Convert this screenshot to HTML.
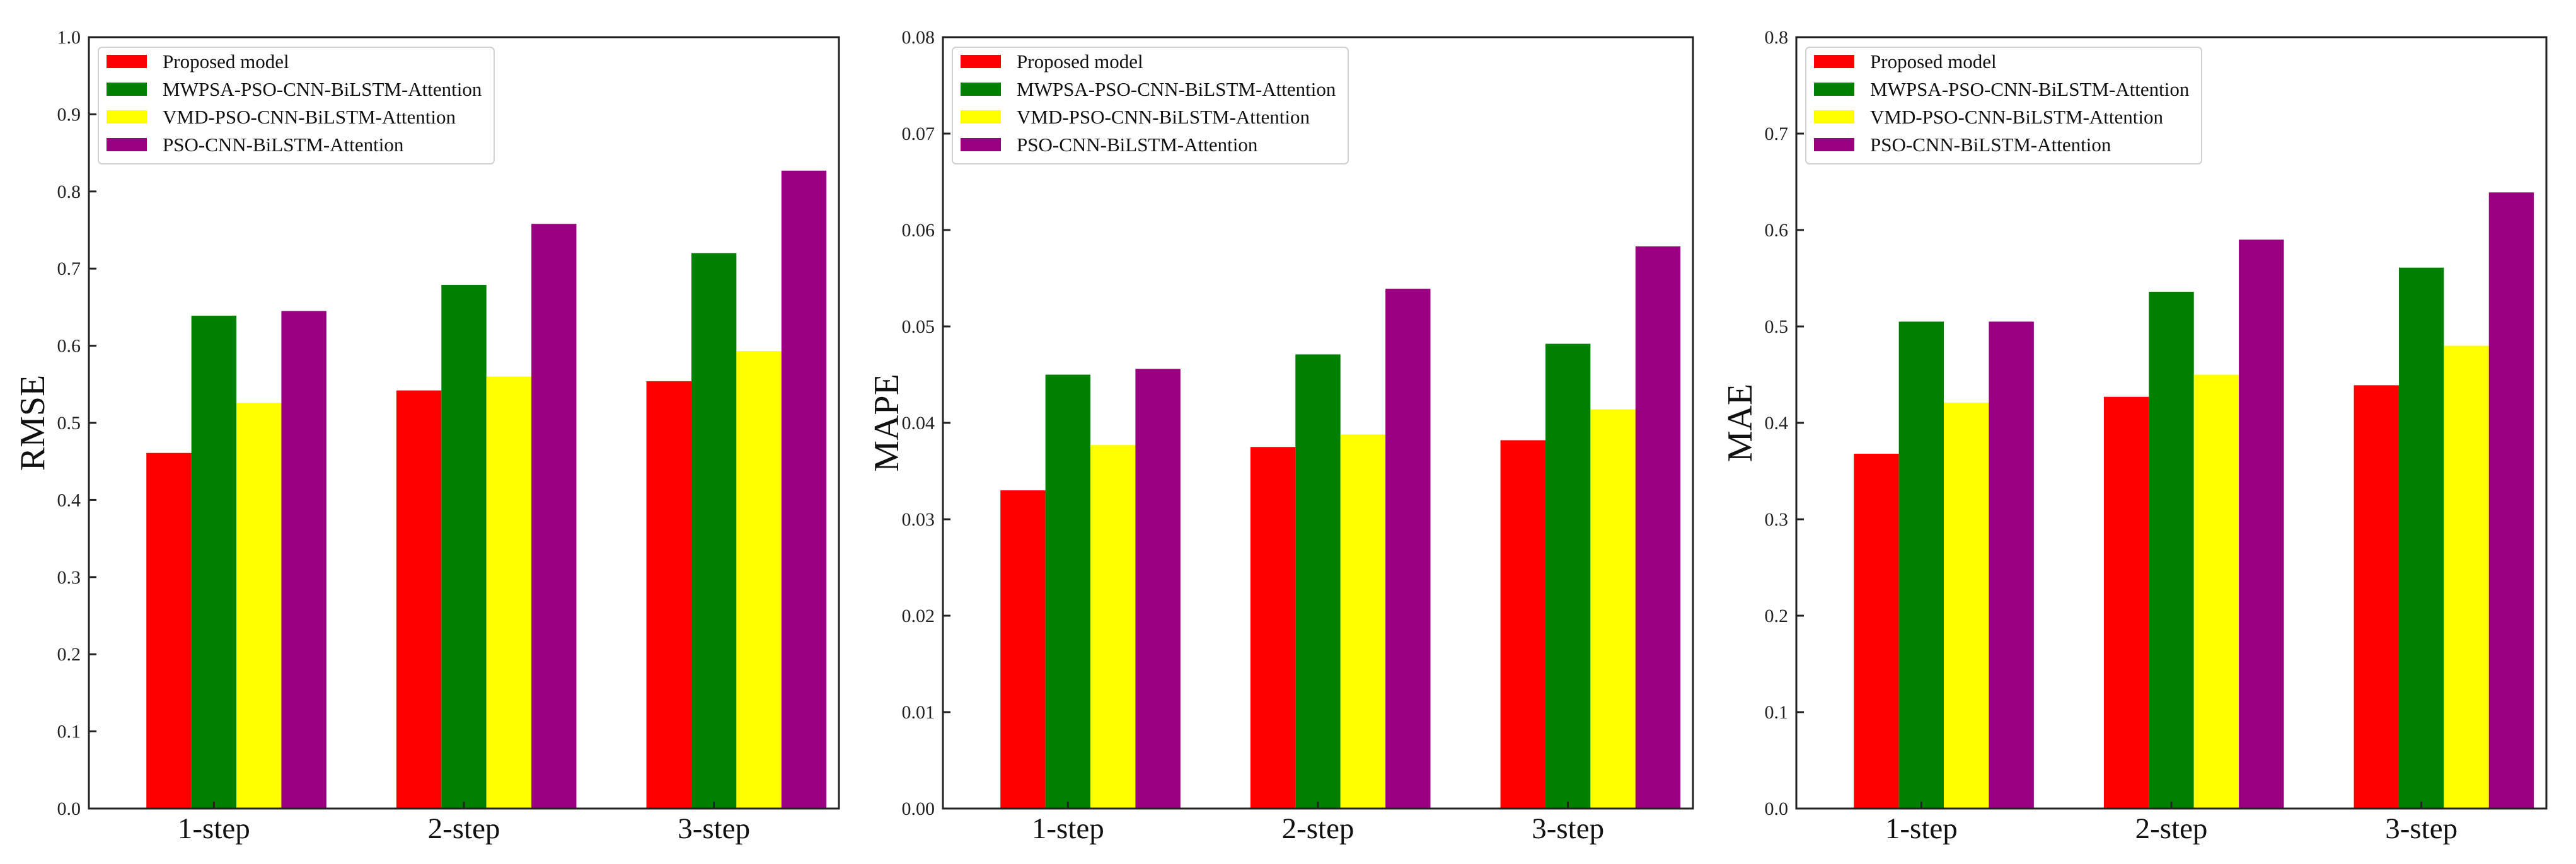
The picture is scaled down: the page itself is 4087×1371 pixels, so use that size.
<!DOCTYPE html>
<html><head><meta charset="utf-8"><style>
html,body{margin:0;padding:0;background:#fff;}
svg{display:block;font-family:"Liberation Serif","DejaVu Serif",serif;}
</style></head><body>
<svg id="fig" width="4087" height="1371" viewBox="0 0 4087 1371" xmlns="http://www.w3.org/2000/svg"></svg>
<script>
const categories = ["1-step","2-step","3-step"];
const seriesNames = ["Proposed model","MWPSA-PSO-CNN-BiLSTM-Attention","VMD-PSO-CNN-BiLSTM-Attention","PSO-CNN-BiLSTM-Attention"];
const seriesColors = ["#ff0000","#008000","#ffff00","#990080"];
const rmseProposed = [0.461,0.542,0.554];
const rmseMWPSA = [0.639,0.679,0.720];
const rmseVMD = [0.526,0.560,0.593];
const rmsePSO = [0.645,0.758,0.827];
const mapeProposed = [0.0330,0.0375,0.0382];
const mapeMWPSA = [0.0450,0.0471,0.0482];
const mapeVMD = [0.0377,0.0388,0.0414];
const mapePSO = [0.0456,0.0539,0.0583];
const maeProposed = [0.368,0.427,0.439];
const maeMWPSA = [0.505,0.536,0.561];
const maeVMD = [0.421,0.450,0.480];
const maePSO = [0.505,0.590,0.639];
const rmseTicks = ["0.0","0.1","0.2","0.3","0.4","0.5","0.6","0.7","0.8","0.9","1.0"];
const mapeTicks = ["0.00","0.01","0.02","0.03","0.04","0.05","0.06","0.07","0.08"];
const maeTicks = ["0.0","0.1","0.2","0.3","0.4","0.5","0.6","0.7","0.8"];

const NS="http://www.w3.org/2000/svg";
const svg=document.getElementById('fig');
function mk(tag,attrs,parent){const e=document.createElementNS(NS,tag);for(const k in attrs)e.setAttribute(k,attrs[k]);(parent||svg).appendChild(e);return e;}

const panels=[
 {left:141,title:"RMSE",ticks:rmseTicks,max:1.0,data:[rmseProposed,rmseMWPSA,rmseVMD,rmsePSO],key:"rmse"},
 {left:1496,title:"MAPE",ticks:mapeTicks,max:0.08,data:[mapeProposed,mapeMWPSA,mapeVMD,mapePSO],key:"mape"},
 {left:2850,title:"MAE",ticks:maeTicks,max:0.8,data:[maeProposed,maeMWPSA,maeVMD,maePSO],key:"mae"}
];
const W=1190, TOP=59, BOT=1283, BW=0.18;
panels.forEach(p=>{
  const g=mk('g',{});
  
  
  const xs=v=>p.left+(v+0.5)/3*W;
  const ys=v=>BOT-(v/p.max)*(BOT-TOP);
  // bars
  p.data.forEach((vals,j)=>{
    vals.forEach((v,i)=>{
      const x=xs(i+(j-1.5)*BW);
      const r=mk('rect',{x:x,y:ys(v),width:xs(BW)-xs(0),height:BOT-ys(v),fill:seriesColors[j]},g);
      
      
    });
  });
  // y ticks
  p.ticks.forEach(t=>{
    const y=ys(parseFloat(t));
    mk('line',{x1:p.left,x2:p.left+12,y1:y,y2:y,stroke:'#222','stroke-width':3},g);
    const tx=mk('text',{x:p.left-13,y:y+10,'text-anchor':'end','font-size':30,fill:'#222'},g);
    tx.textContent=t;
    
    
  });
  // x ticks
  categories.forEach((c,i)=>{
    const x=xs(i);
    mk('line',{x1:x,x2:x,y1:BOT,y2:BOT-11,stroke:'#222','stroke-width':3},g);
    const tx=mk('text',{x:x,y:1330,'text-anchor':'middle','font-size':47,fill:'#111'},g);
    tx.textContent=c;
    
    
  });
  // frame
  const fr=mk('rect',{x:p.left,y:TOP,width:W,height:BOT-TOP,fill:'none',stroke:'#222','stroke-width':3},g);
  
  
  // y title
  const cx=p.left-91, cy=(TOP+BOT)/2;
  const yt=mk('text',{x:cx+20,y:cy,'text-anchor':'middle','font-size':56,fill:'#111',transform:'rotate(-90 '+(cx+20)+' '+cy+')'},g);
  yt.textContent=p.title;
  
  
  // legend
  const lg=mk('g',{},g);
  
  
  mk('rect',{x:p.left+15,y:TOP+16,width:628,height:185,rx:6,fill:'#fff','fill-opacity':0.9,stroke:'#d0d0d0','stroke-width':2},lg);
  seriesNames.forEach((n,j)=>{
    const ry=TOP+28+j*44;
    const e=mk('g',{},lg);
    
    
    mk('rect',{x:p.left+28,y:ry,width:64,height:21,fill:seriesColors[j]},e);
    const t=mk('text',{x:p.left+117,y:ry+21,'font-size':31,fill:'#111'},e);
    t.textContent=n;
  });
});
</script>
</body></html>
